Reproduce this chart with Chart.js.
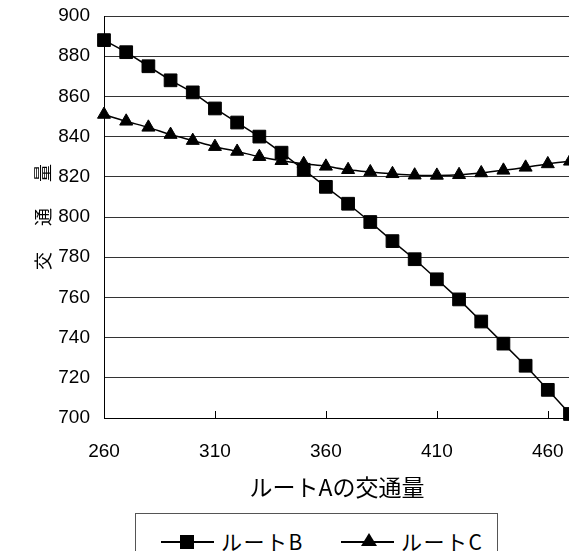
<!DOCTYPE html>
<html lang="ja">
<head>
  <meta charset="UTF-8">
  <title>ルートAの交通量</title>
  <script src="https://cdn.jsdelivr.net/npm/chart.js@4/dist/chart.umd.min.js"></script>
  <style>
    html, body { margin: 0; padding: 0; background: #fff; overflow: hidden; }
    #wrap { position: absolute; left: 0; top: 0; width: 580px; height: 512px; }
    #legend {
      position: absolute; left: 135px; top: 513px; width: 363px; height: 60px;
      border: 1px solid #555; box-sizing: border-box;
      font-family: "Noto Sans CJK JP", "Liberation Sans", sans-serif; font-size: 21px;
    }
    .item { position: absolute; top: 13px; height: 28px; line-height: 28px; letter-spacing: 1.5px; }
    .mark { position: absolute; top: 27px; width: 53px; height: 2px; background: #000; }
    .sq { position: absolute; left: 19px; top: -6px; width: 14px; height: 14px; background: #000; }
    .tri { position: absolute; left: 20px; top: -8px; width: 0; height: 0;
      border-left: 8px solid transparent; border-right: 8px solid transparent; border-bottom: 13px solid #000; }
  </style>
</head>
<body>
<div id="wrap"><canvas id="chart"></canvas></div>
<div id="legend"></div>

<script>
  // ルートAの交通量 (x) と各ルートの交通量
  const routeA = [260, 270, 280, 290, 300, 310, 320, 330, 340, 350, 360,
                  370, 380, 390, 400, 410, 420, 430, 440, 450, 460, 470];
  const routeB = [888, 882, 875, 868, 862, 854, 847, 840, 832, 823.5, 815,
                  806.6, 797.5, 788, 779, 769, 759, 748, 737, 726, 714, 702];
  const routeC = [851, 847.6, 844.6, 841, 838, 835, 832.6, 830, 828, 826.5, 825.2,
                  823.5, 822.4, 821.5, 820.8, 820.7, 821, 821.9, 823.2, 824.7, 826.4, 827.7];
  const seriesNames = ['ルートB', 'ルートC'];
  const xTicks = [260, 310, 360, 410, 460];

  const tickFont = { family: '"Liberation Sans", Arial, sans-serif', size: 19 };
  const jpFont = '"Noto Sans CJK JP", "Liberation Sans", sans-serif';

  // x axis ticks point inward, like the original
  const innerTicks = {
    id: 'innerTicks',
    afterDraw(chart) {
      const x = chart.scales.x;
      const ctx = chart.ctx;
      ctx.save();
      ctx.strokeStyle = '#000';
      ctx.lineWidth = 1;
      xTicks.forEach(v => {
        const px = Math.round(x.getPixelForValue(v)) + 0.5;
        ctx.beginPath();
        ctx.moveTo(px, chart.chartArea.bottom);
        ctx.lineTo(px, chart.chartArea.bottom - 7);
        ctx.stroke();
      });
      ctx.restore();
    }
  };

  new Chart(document.getElementById('chart'), {
    type: 'line',
    data: {
      datasets: [
        {
          label: seriesNames[0],
          data: routeA.map((x, i) => ({ x, y: routeB[i] })),
          borderColor: '#000', backgroundColor: '#000', borderWidth: 1.5,
          pointStyle: 'rect', pointRadius: 9, pointBorderWidth: 1,
          tension: 0, clip: false
        },
        {
          label: seriesNames[1],
          data: routeA.map((x, i) => ({ x, y: routeC[i] })),
          borderColor: '#000', backgroundColor: '#000', borderWidth: 1.5,
          pointStyle: 'triangle', pointRadius: 7.5, pointBorderWidth: 1,
          tension: 0.3, clip: false
        }
      ]
    },
    options: {
      responsive: true,
      maintainAspectRatio: false,
      animation: false,
      layout: { padding: { top: 16, right: 8, left: 0, bottom: 0 } },
      plugins: { legend: { display: false }, tooltip: { enabled: false } },
      scales: {
        x: {
          type: 'linear', min: 260, max: 470,
          afterBuildTicks: s => { s.ticks = xTicks.map(v => ({ value: v })); },
          afterFit: s => { s.height = 94; s.paddingRight = 0; },
          grid: { display: false },
          border: { color: '#000', width: 1 },
          ticks: { font: tickFont, color: '#000', padding: 14, maxRotation: 0 },
          title: { display: true, text: 'ルートAの交通量', color: '#000',
                   font: { family: jpFont, size: 23 }, padding: { top: 0, bottom: 11 } }
        },
        y: {
          min: 700, max: 900,
          afterFit: s => { s.width = 104; s.paddingTop = 0; s.paddingBottom = 0; },
          grid: { color: '#333', lineWidth: 1, drawTicks: false },
          border: { color: '#000', width: 1 },
          ticks: { stepSize: 20, font: tickFont, color: '#000', padding: 14 },
          title: { display: true, text: '交　  通　  量', color: '#000',
                   font: { family: jpFont, size: 18 }, padding: { top: 32, bottom: 0 } }
        }
      }
    },
    plugins: [innerTicks]
  });

  // legend box (HTML), built from the series names
  const legend = document.getElementById('legend');
  const pos = [{ line: 25, text: 85, cls: 'sq' }, { line: 205, text: 265, cls: 'tri' }];
  seriesNames.forEach((name, i) => {
    const m = document.createElement('div');
    m.className = 'mark';
    m.style.left = pos[i].line + 'px';
    m.innerHTML = '<div class="' + pos[i].cls + '"></div>';
    legend.appendChild(m);
    const t = document.createElement('div');
    t.className = 'item';
    t.style.left = pos[i].text + 'px';
    t.textContent = name;
    legend.appendChild(t);
  });
</script>
</body>
</html>
